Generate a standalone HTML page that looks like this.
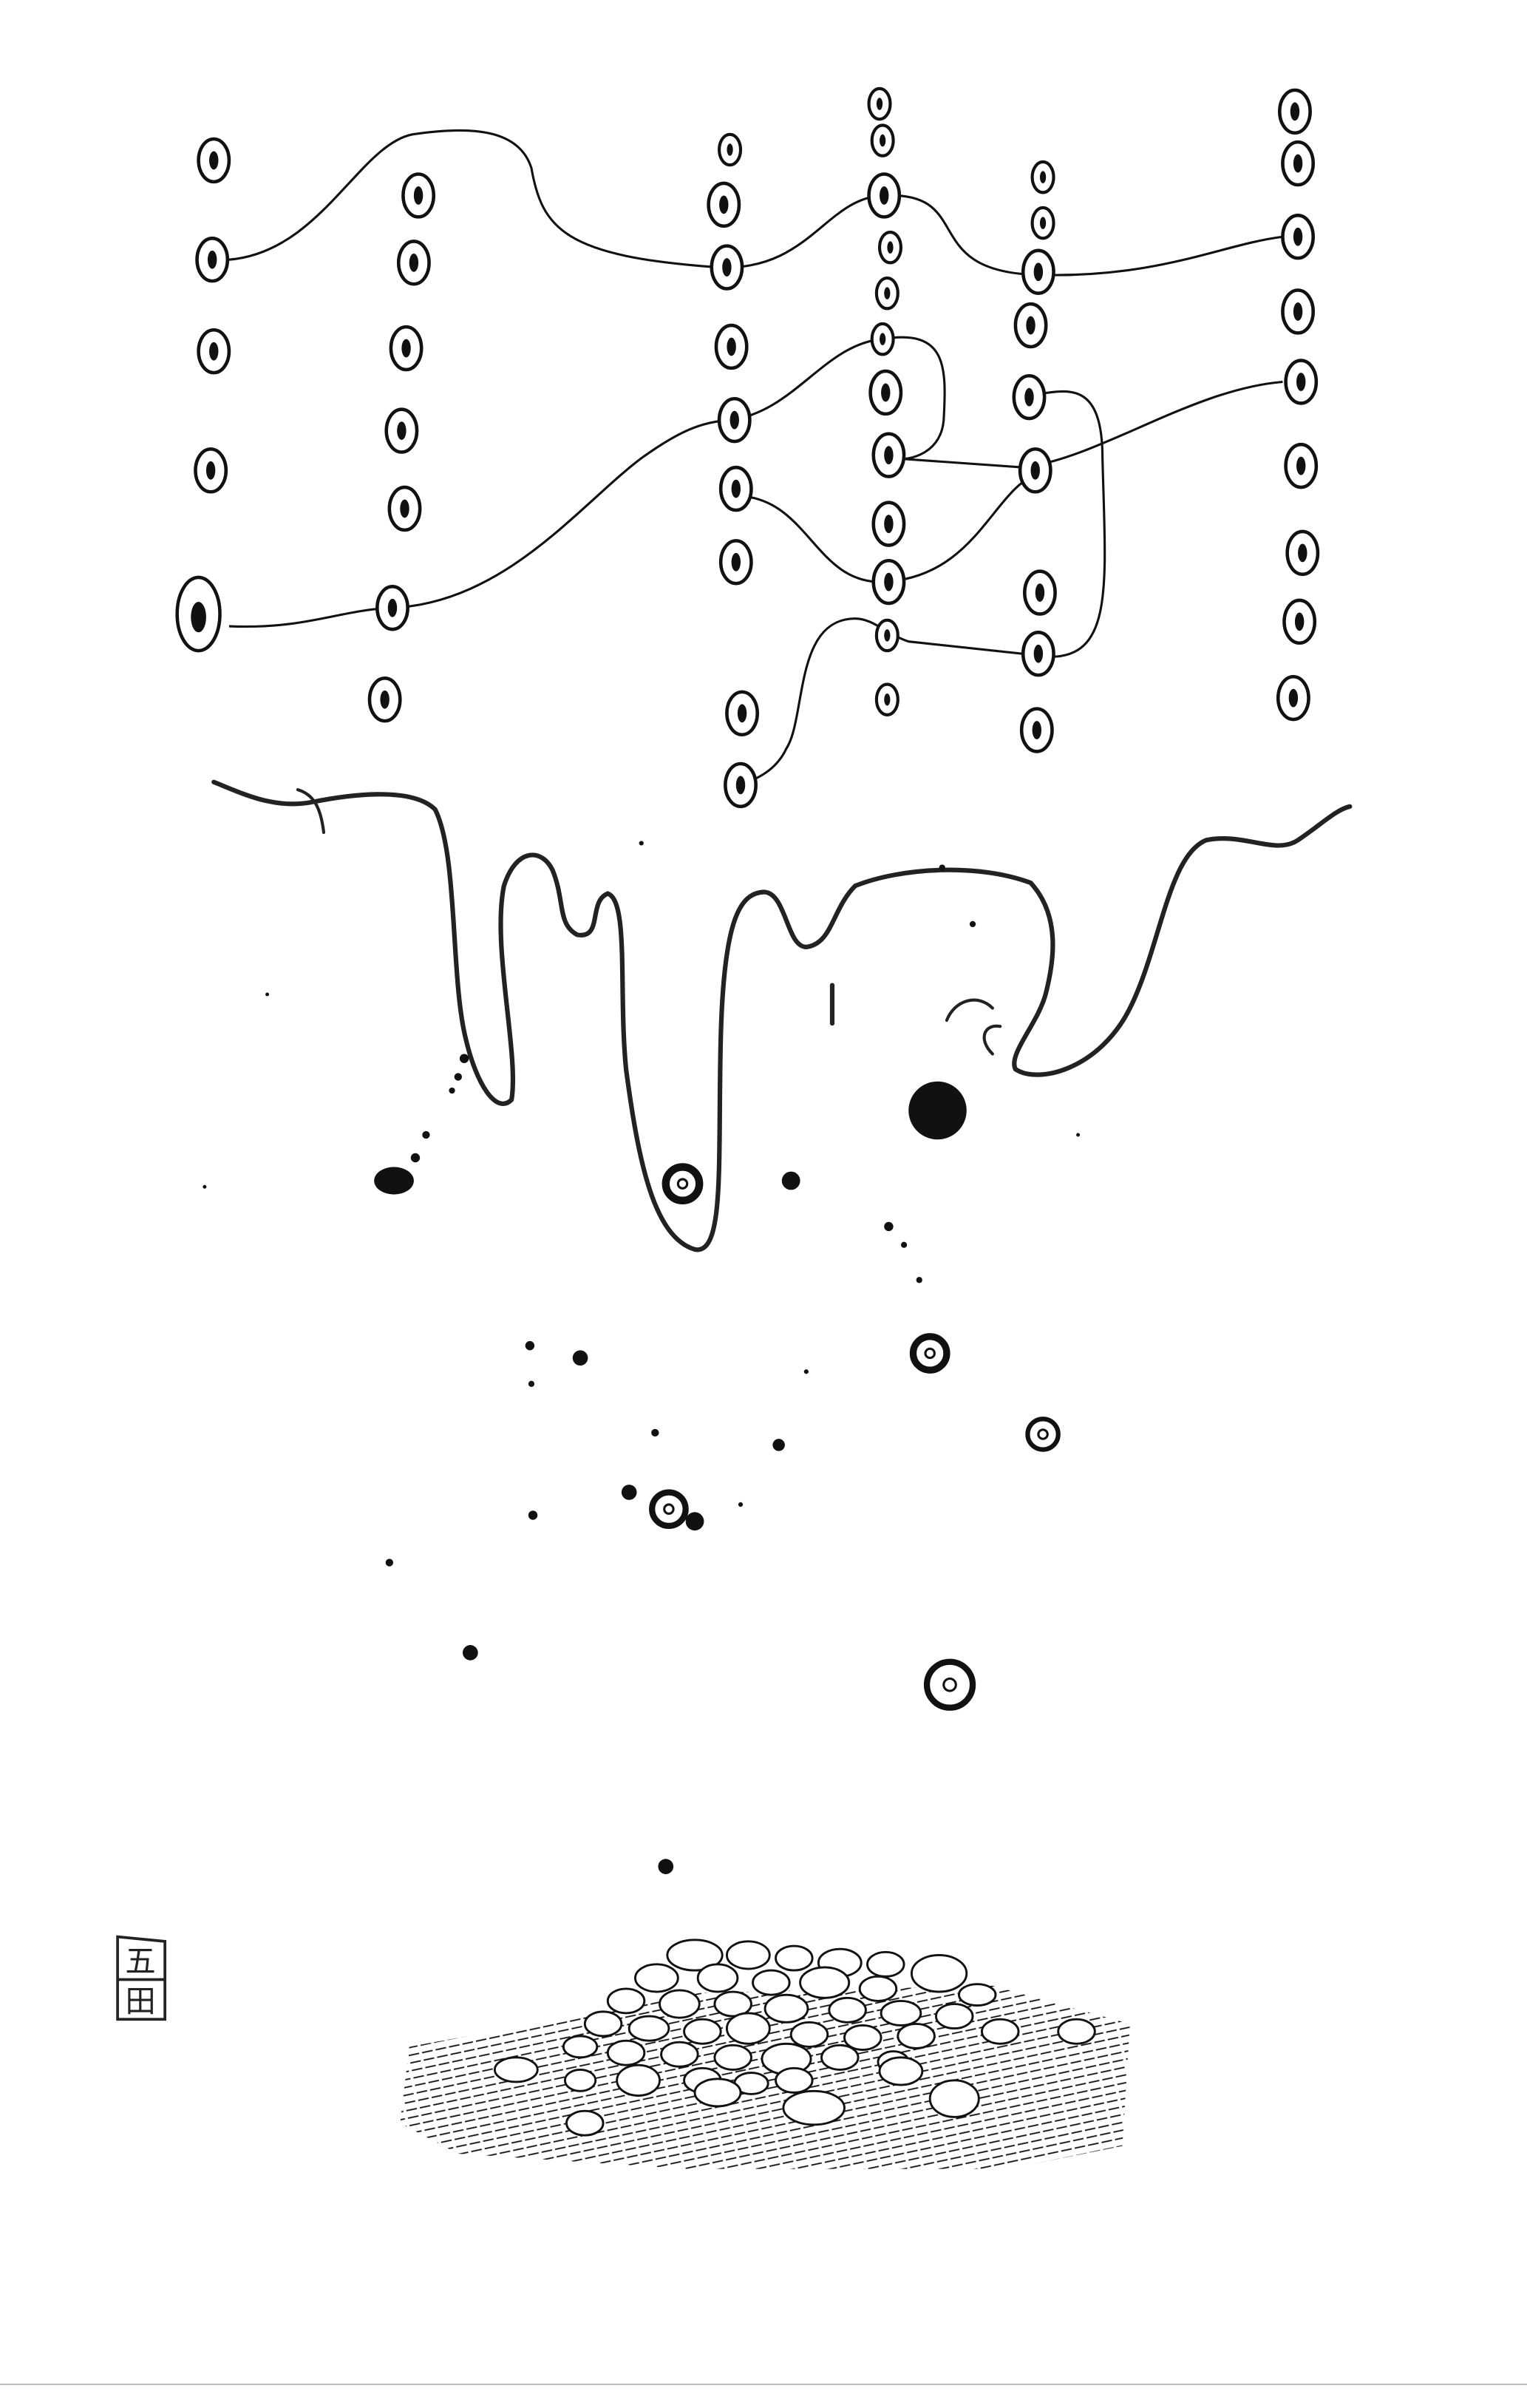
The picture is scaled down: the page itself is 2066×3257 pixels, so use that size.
<!DOCTYPE html>
<html><head><meta charset="utf-8"><style>
html,body{margin:0;padding:0;background:#fff;}
svg{display:block;}
</style></head><body>
<svg width="2066" height="3257" viewBox="0 0 1000 1576.5" xmlns="http://www.w3.org/2000/svg">
<defs>
<pattern id="hatch" width="9" height="5" patternUnits="userSpaceOnUse" patternTransform="rotate(-12)">
<line x1="0" y1="2" x2="7" y2="2" stroke="#111" stroke-width="0.9"/>
</pattern>
<g id="c"><ellipse rx="10" ry="14" fill="#fff" stroke="#111" stroke-width="2.2"/><ellipse rx="3" ry="6" fill="#111"/></g>
<g id="cs"><ellipse rx="7" ry="10" fill="#fff" stroke="#111" stroke-width="2"/><ellipse rx="2" ry="4" fill="#111"/></g>
</defs>
<rect width="1000" height="1576.5" fill="#fff"/>
<line x1="0" y1="1561" x2="1000" y2="1561" stroke="#bbb" stroke-width="1"/>
<g fill="none" stroke="#111" stroke-width="1.5">
<path d="M150,170 C210,165 235,95 270,88 C310,82 340,85 348,110 C355,150 370,168 470,175 C530,178 540,130 578,128 C640,125 600,178 680,180 C760,182 800,160 840,155"/>
<path d="M150,410 C200,412 220,400 255,398 C330,396 380,330 420,300 C445,282 460,276 478,275 C520,270 540,225 578,222 C620,215 620,240 618,275 C616,300 590,302 585,300 L670,306 C720,300 780,255 840,250"/>
<path d="M488,325 C530,330 535,382 578,381 C640,378 650,320 680,310"/>
<path d="M680,258 C700,255 722,250 722,300 C724,380 730,430 688,430 L595,420 C580,415 572,405 560,405 C520,405 528,470 515,490 C508,505 495,510 485,514"/>
</g>
<g>
<use href="#c" x="140" y="105"/><use href="#c" x="139" y="170"/><use href="#c" x="140" y="230"/><use href="#c" x="138" y="308" transform="translate(-138,-308) scale(1,1) translate(138,308)"/><ellipse cx="130" cy="402" rx="14" ry="24" fill="#fff" stroke="#111" stroke-width="2.2"/><ellipse cx="130" cy="404" rx="5" ry="10" fill="#111"/>
<use href="#c" x="274" y="128"/><use href="#c" x="271" y="172"/><use href="#c" x="266" y="228"/><use href="#c" x="263" y="282"/><use href="#c" x="265" y="333"/><use href="#c" x="257" y="398"/><use href="#c" x="252" y="458"/>
<use href="#cs" x="478" y="98"/><use href="#c" x="474" y="134"/><use href="#c" x="476" y="175"/><use href="#c" x="479" y="227"/><use href="#c" x="481" y="275"/><use href="#c" x="482" y="320"/><use href="#c" x="482" y="368"/><use href="#c" x="486" y="467"/><use href="#c" x="485" y="514"/>
<use href="#cs" x="576" y="68"/><use href="#cs" x="578" y="92"/><use href="#c" x="579" y="128"/><use href="#cs" x="583" y="162"/><use href="#cs" x="581" y="192"/><use href="#cs" x="578" y="222"/><use href="#c" x="580" y="257"/><use href="#c" x="582" y="298"/><use href="#c" x="582" y="343"/><use href="#c" x="582" y="381"/><use href="#cs" x="581" y="416"/><use href="#cs" x="581" y="458"/>
<use href="#cs" x="683" y="116"/><use href="#cs" x="683" y="146"/><use href="#c" x="680" y="178"/><use href="#c" x="675" y="213"/><use href="#c" x="674" y="260"/><use href="#c" x="678" y="308"/><use href="#c" x="681" y="388"/><use href="#c" x="680" y="428"/><use href="#c" x="679" y="478"/>
<use href="#c" x="848" y="73"/><use href="#c" x="850" y="107"/><use href="#c" x="850" y="155"/><use href="#c" x="850" y="204"/><use href="#c" x="852" y="250"/><use href="#c" x="852" y="305"/><use href="#c" x="853" y="362"/><use href="#c" x="851" y="407"/><use href="#c" x="847" y="457"/>
</g>
<!-- drip line -->
<g fill="none" stroke-linecap="round">
<path d="M140,512 C160,520 180,530 205,525 C230,520 270,515 285,530 C300,560 295,640 305,680 C312,710 325,730 335,720 C340,690 322,620 330,580 C338,555 355,555 362,570 C370,590 365,605 378,612 C395,615 385,590 398,585 C412,590 405,650 410,700 C418,760 428,810 455,818 C475,822 470,760 472,680 C474,600 485,585 500,584 C515,584 515,620 528,620 C545,618 545,595 560,580 C590,568 640,565 675,578 C695,600 690,630 685,650 C680,670 660,690 665,700 C680,710 720,700 740,660 C760,620 765,560 790,550 C815,545 835,560 850,550 C865,540 875,530 884,528" stroke="#222" stroke-width="3"/>
<path d="M195,517 C205,520 210,528 212,545" stroke="#222" stroke-width="2"/>
<path d="M650,660 C640,650 625,655 620,668" stroke="#222" stroke-width="2"/>
<path d="M650,690 C640,680 645,670 655,672" stroke="#222" stroke-width="2"/>
<path d="M545,645 L545,670" stroke="#222" stroke-width="3"/>
</g>
<g fill="#111">
<ellipse cx="258" cy="773" rx="13" ry="9"/><circle cx="272" cy="758" r="3"/><circle cx="279" cy="743" r="2.5"/><circle cx="300" cy="705" r="2.5"/><circle cx="304" cy="693" r="3"/><circle cx="296" cy="714" r="2"/>
<circle cx="614" cy="727" r="19"/><circle cx="518" cy="773" r="6"/><circle cx="582" cy="803" r="3"/><circle cx="592" cy="815" r="2"/><circle cx="602" cy="838" r="2"/>
<circle cx="380" cy="889" r="5"/><circle cx="347" cy="881" r="3"/><circle cx="348" cy="906" r="2"/><circle cx="510" cy="946" r="4"/><circle cx="429" cy="938" r="2.5"/><circle cx="412" cy="977" r="5"/><circle cx="349" cy="992" r="3"/><circle cx="455" cy="996" r="6"/><circle cx="255" cy="1023" r="2.5"/><circle cx="308" cy="1082" r="5"/><circle cx="436" cy="1222" r="5"/><circle cx="617" cy="568" r="2"/><circle cx="637" cy="605" r="2"/><circle cx="420" cy="552" r="1.5"/><circle cx="175" cy="651" r="1.2"/><circle cx="134" cy="777" r="1.2"/><circle cx="706" cy="743" r="1.2"/><circle cx="528" cy="898" r="1.5"/><circle cx="485" cy="985" r="1.5"/>
</g>
<g fill="#fff" stroke="#111">
<circle cx="447" cy="775" r="11" stroke-width="5"/><circle cx="447" cy="775" r="3" stroke-width="1.5"/>
<circle cx="609" cy="886" r="11" stroke-width="4.5"/><circle cx="609" cy="886" r="3" stroke-width="1.5"/>
<circle cx="683" cy="939" r="10" stroke-width="3"/><circle cx="683" cy="939" r="3" stroke-width="1.5"/>
<circle cx="438" cy="988" r="11" stroke-width="4"/><circle cx="438" cy="988" r="3" stroke-width="1.5"/>
<circle cx="622" cy="1103" r="15" stroke-width="4"/><circle cx="622" cy="1103" r="4" stroke-width="1.5"/>
</g>
<!-- ground hatch -->
<path d="M268,1340 L350,1325 L450,1305 L650,1300 L740,1325 L735,1405 L660,1420 L450,1420 L300,1410 L262,1390 Z" fill="url(#hatch)"/>
<!-- pile -->
<g fill="#fff" stroke="#111" stroke-width="1.4">
<ellipse cx="455" cy="1280" rx="18" ry="10"/><ellipse cx="490" cy="1280" rx="14" ry="9"/><ellipse cx="520" cy="1282" rx="12" ry="8"/><ellipse cx="550" cy="1285" rx="14" ry="9"/><ellipse cx="580" cy="1286" rx="12" ry="8"/><ellipse cx="615" cy="1292" rx="18" ry="12"/>
<ellipse cx="430" cy="1295" rx="14" ry="9"/><ellipse cx="470" cy="1295" rx="13" ry="9"/><ellipse cx="505" cy="1298" rx="12" ry="8"/><ellipse cx="540" cy="1298" rx="16" ry="10"/><ellipse cx="575" cy="1302" rx="12" ry="8"/><ellipse cx="640" cy="1306" rx="12" ry="7"/>
<ellipse cx="410" cy="1310" rx="12" ry="8"/><ellipse cx="445" cy="1312" rx="13" ry="9"/><ellipse cx="480" cy="1312" rx="12" ry="8"/><ellipse cx="515" cy="1315" rx="14" ry="9"/><ellipse cx="555" cy="1316" rx="12" ry="8"/><ellipse cx="590" cy="1318" rx="13" ry="8"/><ellipse cx="625" cy="1320" rx="12" ry="8"/>
<ellipse cx="395" cy="1325" rx="12" ry="8"/><ellipse cx="425" cy="1328" rx="13" ry="8"/><ellipse cx="460" cy="1330" rx="12" ry="8"/><ellipse cx="490" cy="1328" rx="14" ry="10"/><ellipse cx="530" cy="1332" rx="12" ry="8"/><ellipse cx="565" cy="1334" rx="12" ry="8"/><ellipse cx="600" cy="1333" rx="12" ry="8"/><ellipse cx="655" cy="1330" rx="12" ry="8"/>
<ellipse cx="380" cy="1340" rx="11" ry="7"/><ellipse cx="410" cy="1344" rx="12" ry="8"/><ellipse cx="445" cy="1345" rx="12" ry="8"/><ellipse cx="480" cy="1347" rx="12" ry="8"/><ellipse cx="515" cy="1348" rx="16" ry="10"/><ellipse cx="550" cy="1347" rx="12" ry="8"/><ellipse cx="585" cy="1350" rx="10" ry="7"/>
<ellipse cx="380" cy="1362" rx="10" ry="7"/><ellipse cx="418" cy="1362" rx="14" ry="10"/><ellipse cx="460" cy="1362" rx="12" ry="8"/><ellipse cx="492" cy="1364" rx="11" ry="7"/><ellipse cx="520" cy="1362" rx="12" ry="8"/><ellipse cx="590" cy="1356" rx="14" ry="9"/>
<ellipse cx="338" cy="1355" rx="14" ry="8"/><ellipse cx="470" cy="1370" rx="15" ry="9"/><ellipse cx="533" cy="1380" rx="20" ry="11"/><ellipse cx="625" cy="1374" rx="16" ry="12"/><ellipse cx="383" cy="1390" rx="12" ry="8"/><ellipse cx="705" cy="1330" rx="12" ry="8"/>
</g>
<!-- stamp -->
<g fill="none" stroke="#222" stroke-width="1.8">
<path d="M77,1268 L108,1271 L108,1322 L77,1322 Z"/><line x1="77" y1="1296" x2="108" y2="1296"/>
</g>
<text x="92" y="1291" font-family="'Liberation Sans','Noto Sans CJK SC',sans-serif" font-size="20" text-anchor="middle" fill="#222">五</text>
<text x="92" y="1317" font-family="'Liberation Sans','Noto Sans CJK SC',sans-serif" font-size="20" text-anchor="middle" fill="#222">田</text>
</svg>
</body></html>
